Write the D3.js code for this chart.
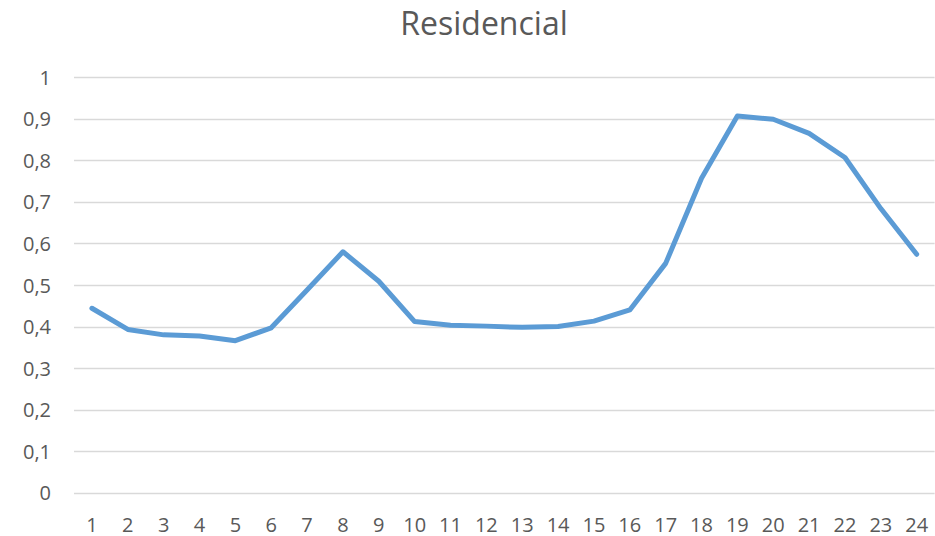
<!DOCTYPE html>
<html>
<head>
<meta charset="utf-8">
<script src="https://cdn.jsdelivr.net/npm/d3@7"></script>
<style>
  html, body { margin: 0; padding: 0; background: #ffffff; }
  svg { display: block; }
  text { font-family: "Open Sans", "DejaVu Sans", sans-serif; fill: #595959; }
</style>
</head>
<body>
<svg id="chart" width="935" height="536"></svg>
<script>
// Hours of the day (category axis)
const hours = d3.range(1, 25).map(String);
// Residential load profile per hour
const residencial = [0.444, 0.393, 0.380, 0.377, 0.366, 0.397, 0.488, 0.580, 0.509, 0.412,
                     0.403, 0.401, 0.398, 0.400, 0.413, 0.440, 0.552, 0.757, 0.907, 0.899,
                     0.865, 0.807, 0.684, 0.574];
// Value axis ticks
const yTicks = [0, 0.1, 0.2, 0.3, 0.4, 0.5, 0.6, 0.7, 0.8, 0.9, 1];

const svg = d3.select("#chart");
const plot = { left: 74, right: 934.6, top: 77.3, bottom: 492.7 };

const x = d3.scaleBand().domain(hours).range([plot.left, plot.right]);
const y = d3.scaleLinear().domain([0, 1]).range([plot.bottom, plot.top]);
const fmt = v => String(v).replace(".", ",");

// Title
svg.append("text")
  .attr("x", 484).attr("y", 35)
  .attr("text-anchor", "middle")
  .style("font-size", "32px")
  .text("Residencial");

// Horizontal gridlines
svg.append("g").selectAll("line").data(yTicks).join("line")
  .attr("x1", plot.left).attr("x2", plot.right)
  .attr("y1", d => Math.round(y(d)) + 0.5).attr("y2", d => Math.round(y(d)) + 0.5)
  .attr("stroke", "#d9d9d9").attr("stroke-width", 1.3);

// Y axis labels
svg.append("g").selectAll("text").data(yTicks).join("text")
  .attr("x", 51).attr("y", d => y(d) + 7.5)
  .attr("text-anchor", "end")
  .style("font-size", "20px")
  .text(fmt);

// X axis labels
svg.append("g").selectAll("text").data(hours).join("text")
  .attr("x", d => x(d) + x.bandwidth() / 2).attr("y", 531.5)
  .attr("text-anchor", "middle")
  .style("font-size", "20px")
  .text(d => d);

// Load curve
const line = d3.line()
  .x((d, i) => x(hours[i]) + x.bandwidth() / 2)
  .y(d => y(d));

svg.append("path")
  .datum(residencial)
  .attr("fill", "none")
  .attr("stroke", "#5b9bd5")
  .attr("stroke-width", 5)
  .attr("stroke-linejoin", "round")
  .attr("stroke-linecap", "round")
  .attr("d", line);
</script>
</body>
</html>
